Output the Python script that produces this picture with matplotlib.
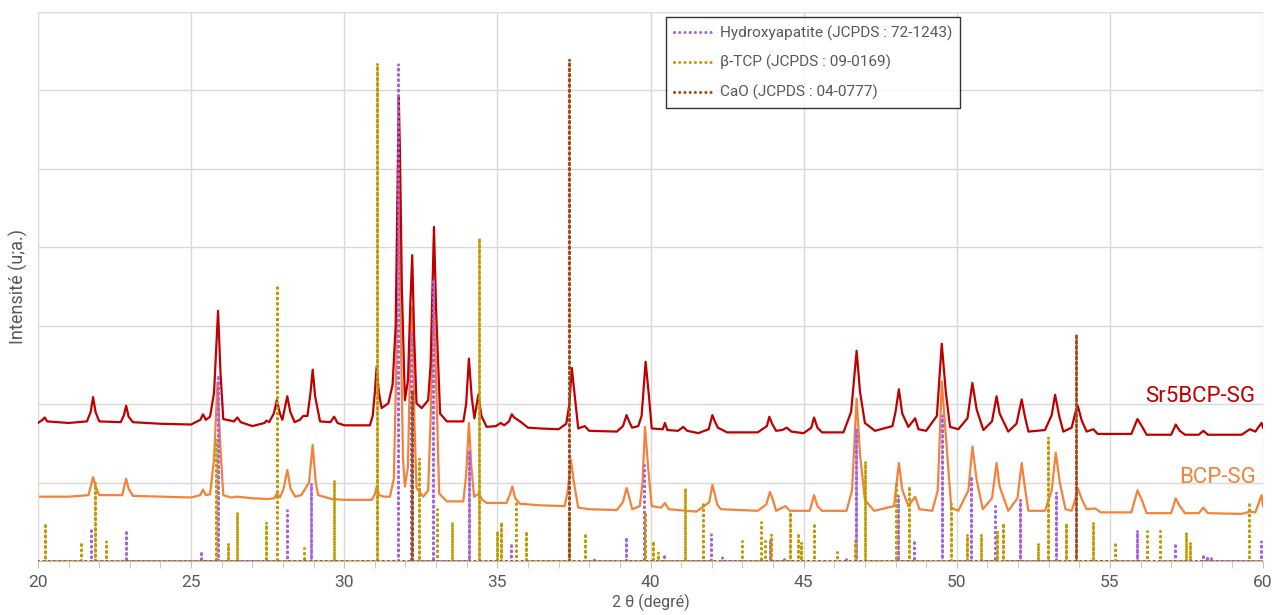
import matplotlib.pyplot as plt
import matplotlib as mpl

mpl.rcParams['font.family'] = ['Roboto', 'DejaVu Sans']

# Sr5BCP-SG diffractogram, points (2 theta, intensity)
sr5_x = [20.00, 20.15, 20.22, 20.30, 21.0, 21.60, 21.72, 21.80, 21.88, 22.00, 22.70, 22.80, 22.88, 22.96, 23.10,
         24.0, 25.0, 25.30, 25.39, 25.48, 25.62, 25.75, 25.88, 25.96, 26.05, 26.40, 26.51, 26.62, 27.0, 27.40,
         27.46, 27.55, 27.70, 27.80, 27.90, 27.98, 28.06, 28.14, 28.24, 28.38, 28.55, 28.66, 28.80, 28.90, 28.97,
         29.05, 29.21, 29.55, 29.67, 29.78, 30.0, 30.84, 30.93, 31.00, 31.06, 31.13, 31.22, 31.44, 31.58, 31.68,
         31.78, 31.82, 31.88, 31.98, 32.08, 32.16, 32.22, 32.28, 32.36, 32.53, 32.74, 32.82, 32.93, 33.00, 33.13,
         33.35, 33.89, 33.98, 34.07, 34.16, 34.25, 34.38, 34.48, 34.65, 34.95, 35.11, 35.22, 35.38, 35.47, 35.55,
         35.74, 36.0, 36.39, 37.0, 37.25, 37.35, 37.43, 37.54, 37.64, 37.85, 38.0, 38.9, 39.1, 39.22, 39.30,
         39.40, 39.60, 39.71, 39.84, 39.95, 40.04, 40.40, 40.47, 40.55, 40.9, 41.07, 41.20, 41.56, 41.9, 42.02,
         42.10, 42.20, 42.5, 43.5, 43.80, 43.88, 43.97, 44.10, 44.30, 44.45, 44.60, 45.0, 45.25, 45.34, 45.45,
         45.60, 46.3, 46.55, 46.73, 46.84, 47.0, 47.33, 47.9, 48.0, 48.11, 48.22, 48.42, 48.64, 48.75, 49.0,
         49.35, 49.51, 49.64, 49.78, 50.05, 50.35, 50.51, 50.65, 50.87, 51.15, 51.30, 51.40, 51.68, 51.95, 52.12,
         52.22, 52.34, 52.88, 53.10, 53.21, 53.35, 53.48, 53.75, 53.88, 53.95, 54.08, 54.24, 54.46, 54.6, 55.7,
         55.90, 56.04, 56.2, 57.0, 57.15, 57.28, 57.45, 57.9, 58.05, 58.2, 59.3, 59.57, 59.75, 59.95, 60.0]
sr5_y = [176, 180, 183, 178, 176, 178, 190, 209, 190, 178, 177, 185, 198, 184, 177,
         175, 174, 180, 187, 180, 184, 215, 319, 240, 181, 178, 183, 177, 172, 176,
         179, 177, 188, 205, 188, 180, 195, 210, 190, 177, 180, 185, 185, 215, 244,
         210, 178, 177, 184, 176, 173, 173, 185, 215, 248, 215, 195, 201, 225, 300,
         591, 520, 350, 205, 230, 330, 390, 290, 201, 195, 205, 250, 426, 320, 188,
         178, 178, 200, 258, 210, 182, 212, 185, 171, 172, 176, 173, 178, 187, 183,
         178, 170, 169, 168, 175, 200, 246, 205, 169, 172, 166, 165, 172, 186, 178,
         170, 172, 185, 254, 210, 169, 168, 176, 167, 166, 171, 166, 163, 168, 186,
         178, 170, 164, 164, 172, 184, 175, 166, 167, 170, 165, 163, 170, 183, 170,
         164, 164, 190, 268, 216, 176, 166, 172, 190, 219, 188, 171, 182, 168, 166,
         185, 277, 216, 171, 168, 182, 227, 193, 167, 178, 210, 188, 165, 175, 206,
         185, 165, 167, 186, 212, 184, 165, 170, 190, 198, 179, 165, 168, 162, 162,
         181, 172, 161, 161, 174, 166, 161, 161, 166, 161, 161, 168, 165, 176, 170]

# BCP-SG diffractogram
bcp_x = [20.0, 21.0, 21.65, 21.72, 21.80, 21.88, 22.0, 22.75, 22.80, 22.88, 22.96, 23.1, 24.0, 25.0, 25.30,
         25.39, 25.48, 25.62, 25.75, 25.86, 25.95, 26.05, 26.3, 26.5, 27.0, 27.5, 27.72, 27.80, 27.90, 28.02,
         28.14, 28.25, 28.40, 28.60, 28.85, 28.97, 29.07, 29.15, 29.6, 30.0, 30.9, 31.00, 31.06, 31.14, 31.30,
         31.49, 31.62, 31.70, 31.77, 31.84, 31.92, 31.98, 32.08, 32.16, 32.22, 32.29, 32.36, 32.58, 32.74, 32.82,
         32.91, 32.98, 33.10, 33.35, 33.89, 33.98, 34.07, 34.15, 34.24, 34.40, 34.50, 34.65, 35.3, 35.41, 35.49,
         35.58, 35.74, 36.39, 37.2, 37.30, 37.40, 37.50, 37.64, 38.0, 38.9, 39.1, 39.22, 39.30, 39.40, 39.65,
         39.74, 39.82, 39.93, 40.04, 40.35, 40.47, 40.6, 41.5, 41.92, 42.02, 42.10, 42.18, 42.3, 43.5, 43.78,
         43.90, 43.98, 44.10, 44.41, 44.55, 45.2, 45.34, 45.45, 45.6, 46.4, 46.58, 46.73, 46.84, 47.0, 47.3,
         47.95, 48.11, 48.22, 48.42, 48.64, 48.78, 49.2, 49.38, 49.51, 49.67, 49.82, 50.05, 50.38, 50.51, 50.65,
         50.85, 51.15, 51.30, 51.40, 51.68, 51.98, 52.12, 52.22, 52.34, 52.88, 53.10, 53.23, 53.37, 53.55, 53.75,
         53.88, 53.95, 54.08, 54.24, 54.52, 54.7, 55.7, 55.90, 56.04, 56.2, 57.0, 57.15, 57.28, 57.45, 57.9,
         58.05, 58.2, 59.3, 59.57, 59.75, 59.95, 60.0]
bcp_y = [82, 82, 84, 95, 107, 95, 84, 84, 92, 105, 92, 83, 82, 81, 84,
         91, 84, 85, 130, 227, 150, 84, 81, 82, 80, 79, 80, 86, 81, 92,
         116, 92, 82, 84, 100, 148, 100, 84, 79, 78, 78, 85, 95, 84, 82,
         82, 105, 250, 511, 300, 130, 95, 120, 270, 324, 180, 93, 82, 90, 180,
         345, 260, 86, 76, 76, 110, 176, 120, 82, 86, 78, 74, 74, 85, 95,
         80, 73, 71, 70, 90, 129, 100, 68, 66, 65, 75, 93, 82, 66, 70,
         100, 171, 116, 70, 68, 74, 66, 63, 75, 97, 85, 72, 66, 64, 72,
         88, 80, 64, 70, 64, 64, 84, 70, 64, 64, 90, 207, 136, 78, 64,
         70, 125, 91, 70, 82, 66, 64, 90, 229, 146, 68, 64, 90, 146, 103,
         66, 80, 125, 95, 64, 80, 125, 95, 64, 64, 90, 138, 99, 66, 64,
         80, 93, 79, 66, 67, 62, 62, 90, 78, 61, 61, 80, 70, 61, 61,
         68, 61, 60, 63, 62, 84, 70]

# reference patterns (stick position, stick height)
ha_pos = [21.74, 22.86, 25.33, 25.88, 28.13, 28.90, 31.77, 32.18, 32.89, 34.07, 35.44, 38.17, 39.19, 39.79,
          40.45, 41.98, 42.33, 43.90, 44.35, 46.37, 46.70, 48.08, 48.59, 49.51, 50.47, 51.25, 52.08, 53.24,
          55.87, 57.13, 58.03, 58.18, 58.29, 59.92]
ha_int = [42, 39, 13, 237, 65, 99, 634, 290, 359, 142, 23, 4, 30, 122,
          9, 35, 5, 28, 4, 4, 170, 84, 27, 186, 109, 70, 79, 88,
          40, 23, 9, 6, 4, 26]

tcp_pos = [20.22, 21.39, 21.87, 22.23, 25.82, 26.20, 26.51, 27.44, 27.79, 28.69, 29.68, 31.06, 32.45, 33.04,
           33.51, 34.39, 35.00, 35.13, 35.61, 35.92, 37.35, 37.87, 39.82, 40.07, 40.23, 41.13, 41.70, 43.00,
           43.60, 43.74, 43.92, 44.55, 44.80, 44.93, 45.34, 46.08, 46.69, 47.00, 48.01, 48.44, 49.81, 50.35,
           50.78, 51.30, 51.52, 52.66, 52.99, 53.56, 54.45, 55.15, 56.20, 56.64, 57.48, 57.62, 59.55]
tcp_int = [48, 24, 101, 26, 156, 23, 63, 50, 352, 16, 103, 635, 131, 66,
           50, 412, 38, 50, 76, 38, 61, 36, 62, 25, 11, 93, 75, 25,
           50, 25, 35, 62, 36, 24, 49, 12, 27, 127, 101, 95, 74, 35,
           35, 38, 48, 23, 158, 49, 50, 24, 38, 38, 37, 24, 75]

cao_pos = [32.20, 37.35, 53.89]
cao_int = [218, 640, 290]

ref_labels = ['Hydroxyapatite (JCPDS : 72-1243)', 'β-TCP (JCPDS : 09-0169)', 'CaO (JCPDS : 04-0777)']
ref_colors = ['#A463E0', '#C29B00', '#A24A17']

txt_color = '#595959'
grid_color = '#d9d9d9'


def stick_path(pos, heights):
    # one continuous line: baseline -> up -> down at every reflection
    xs, ys = [20.0], [0.0]
    for p, h in zip(pos, heights):
        xs += [p, p, p]
        ys += [0.0, h, 0.0]
    xs.append(60.0)
    ys.append(0.0)
    return xs, ys


fig = plt.figure(figsize=(12.74, 6.15), dpi=100)
ax = fig.add_axes([0.0298, 0.0878, 0.9616, 0.8927])

ax.plot(bcp_x, bcp_y, color='#F4823C', lw=1.6, zorder=2)
ax.plot(sr5_x, sr5_y, color='#C00000', lw=1.6, zorder=3)

# round dots like the spreadsheet "round dot" dash type
for (pos, h), lab, col in zip([(ha_pos, ha_int), (tcp_pos, tcp_int), (cao_pos, cao_int)], ref_labels, ref_colors):
    xs, ys = stick_path(pos, h)
    ax.plot(xs, ys, color=col, lw=2.2, ls=(0, (0.01, 1.7)), dash_capstyle='round',
            solid_capstyle='round', label=lab, zorder=4)

ax.set_xlim(20, 60)
ax.set_ylim(0, 700)
ax.set_xticks(range(20, 61, 5))
ax.set_xticks(range(20, 61, 1), minor=True)
ax.set_yticks(range(0, 701, 100))
ax.set_yticklabels([])
ax.tick_params(axis='y', length=0)
ax.tick_params(axis='x', which='both', length=5, color='#bfbfbf', labelsize=12.5, labelcolor=txt_color, pad=5)
ax.grid(True, which='major', color=grid_color, lw=1, zorder=0)
ax.set_axisbelow(True)

for side in ['top', 'right']:
    ax.spines[side].set_visible(False)
ax.spines['left'].set_color(grid_color)
ax.spines['bottom'].set_color('#bfbfbf')

ax.set_xlabel('2 θ (degré)', fontsize=11.5, color=txt_color, labelpad=3)
ax.set_ylabel('Intensité (u;a.)', fontsize=13, color=txt_color, labelpad=4)

ax.text(59.75, 210, 'Sr5BCP-SG', color='#C00000', fontsize=16, ha='right', va='center')
ax.text(59.75, 106, 'BCP-SG', color='#F4823C', fontsize=16, ha='right', va='center')

leg = ax.legend(loc='upper left', bbox_to_anchor=(0.513, 0.99), fontsize=11.1, labelcolor=txt_color,
                frameon=True, fancybox=False, edgecolor='black', handlelength=2.6, handletextpad=0.35,
                labelspacing=0.95, borderpad=0.5, borderaxespad=0)
leg.get_frame().set_linewidth(1.0)

fig.savefig('out.png', dpi=100)
